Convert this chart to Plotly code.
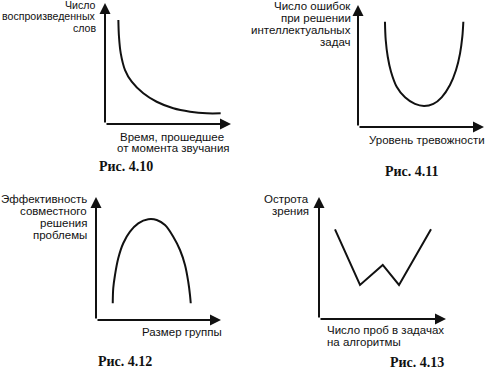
import plotly.graph_objects as go

W, H = 486, 370

# ---- data (arbitrary units, axes span 0..10) ----
fig10_x = [1.06, 1.11, 1.25, 1.59, 2.12, 3.04, 4.10, 5.42, 6.75, 8.07, 9.18]
fig10_y = [8.60, 7.21, 5.84, 4.46, 3.50, 2.54, 1.84, 1.30, 1.02, 0.88, 0.88]

fig11_x = [2.14, 2.20, 2.36, 2.62, 3.07, 3.73, 4.52, 5.24, 5.98, 6.64, 7.30, 7.78, 8.10, 8.28, 8.36]
fig11_y = [8.63, 7.13, 5.76, 4.53, 3.30, 2.43, 1.89, 1.72, 1.89, 2.43, 3.44, 4.67, 6.04, 7.40, 8.63]

fig12_x = [1.34, 1.38, 1.52, 1.78, 2.18, 2.72, 3.38, 4.18, 4.86, 5.52, 6.18, 6.72, 7.12, 7.38, 7.52, 7.58]
fig12_y = [1.36, 2.58, 3.66, 5.02, 6.24, 7.18, 7.86, 8.19, 8.13, 7.72, 6.77, 5.69, 4.47, 3.11, 2.03, 1.36]

fig13_x = [1.26, 3.23, 5.02, 6.30, 8.82]
fig13_y = [7.35, 2.79, 4.43, 2.79, 7.35]

captions = ["Рис. 4.10", "Рис. 4.11", "Рис. 4.12", "Рис. 4.13"]
ylabels = [
    ["Число", "воспроизведенных", "слов"],
    ["Число ошибок", "при решении", "интеллектуальных", "задач"],
    ["Эффективность", "совместного", "решения", "проблемы"],
    ["Острота", "зрения"],
]
xlabels = [
    ["Время, прошедшее", "от момента звучания"],
    ["Уровень тревожности"],
    ["Размер группы"],
    ["Число проб в задачах", "на алгоритмы"],
]

# ---- layout geometry (pixels) ----
panels = [
    dict(x=fig10_x, y=fig10_y, shape="spline", dx=(105, 231), dy=(3, 124), yfs=10.6,
         yl_x=98, yl_y=[5, 16.5, 27.5], xl_x=[118, 115], xl_y=[136.5, 147.5], cap=(126, 166)),
    dict(x=fig11_x, y=fig11_y, shape="spline", dx=(358, 484), dy=(5, 127), yfs=11.5,
         yl_x=353, yl_y=[6, 18, 30, 42], xl_x=[367], xl_y=[140], cap=(412, 171.5)),
    dict(x=fig12_x, y=fig12_y, shape="spline", dx=(96, 221), dy=(197, 320), yfs=11.5,
         yl_x=89, yl_y=[199, 211, 223, 235], xl_x=[140], xl_y=[332], cap=(124.5, 361)),
    dict(x=fig13_x, y=fig13_y, shape="linear", dx=(319, 446), dy=(197, 319), yfs=11.5,
         yl_x=311, yl_y=[199, 211], xl_x=[325, 325], xl_y=[330, 341.5], cap=(417, 362)),
]

SANS = "Liberation Sans, Arial, sans-serif"
SERIF = "Liberation Serif, Times New Roman, serif"
INK = "#111111"
FS = 11.5

fig = go.Figure()
layout = dict(width=W, height=H, autosize=False,
              margin=dict(l=0, r=0, t=0, b=0),
              paper_bgcolor="white", plot_bgcolor="white",
              showlegend=False)
annotations = []

def px(v):
    return v / W

def py(v):
    return 1 - v / H

for i, p in enumerate(panels):
    n = "" if i == 0 else str(i + 1)
    xa, ya = "x" + n, "y" + n
    layout["xaxis" + n] = dict(domain=[px(p["dx"][0]), px(p["dx"][1])], range=[0, 10],
                               visible=False, anchor=ya, fixedrange=True)
    layout["yaxis" + n] = dict(domain=[py(p["dy"][1]), py(p["dy"][0])], range=[0, 10],
                               visible=False, anchor=xa, fixedrange=True)
    fig.add_trace(go.Scatter(x=p["x"], y=p["y"], mode="lines", xaxis=xa, yaxis=ya,
                             line=dict(color=INK, width=2, shape=p["shape"], smoothing=1.0),
                             cliponaxis=False, hoverinfo="skip"))
    # axis arrows
    for (tx, ty) in [(10, 0), (0, 10)]:
        annotations.append(dict(xref=xa, yref=ya, axref=xa, ayref=ya, x=tx, y=ty, ax=0, ay=0,
                                text="", showarrow=True, arrowhead=2, arrowsize=1.1,
                                arrowwidth=2, arrowcolor=INK, standoff=0, startstandoff=0))
    # y label lines (right aligned)
    for t, yy in zip(ylabels[i], p["yl_y"]):
        annotations.append(dict(xref="paper", yref="paper", x=px(p["yl_x"]), y=py(yy),
                                xanchor="right", yanchor="middle", text=t, showarrow=False,
                                font=dict(family=SANS, size=p["yfs"], color=INK)))
    # x label lines (left aligned)
    for t, xx, yy in zip(xlabels[i], p["xl_x"], p["xl_y"]):
        annotations.append(dict(xref="paper", yref="paper", x=px(xx), y=py(yy),
                                xanchor="left", yanchor="middle", text=t, showarrow=False,
                                font=dict(family=SANS, size=FS, color=INK)))
    # caption
    annotations.append(dict(xref="paper", yref="paper", x=px(p["cap"][0]), y=py(p["cap"][1]),
                            xanchor="center", yanchor="middle", text="<b>" + captions[i] + "</b>",
                            showarrow=False, font=dict(family=SERIF, size=14, color=INK)))

layout["annotations"] = annotations
fig.update_layout(**layout)
fig.write_html("out.html", config={"displayModeBar": False, "staticPlot": True},
               post_script="document.body.style.margin='0px';document.body.style.overflow='hidden';")
